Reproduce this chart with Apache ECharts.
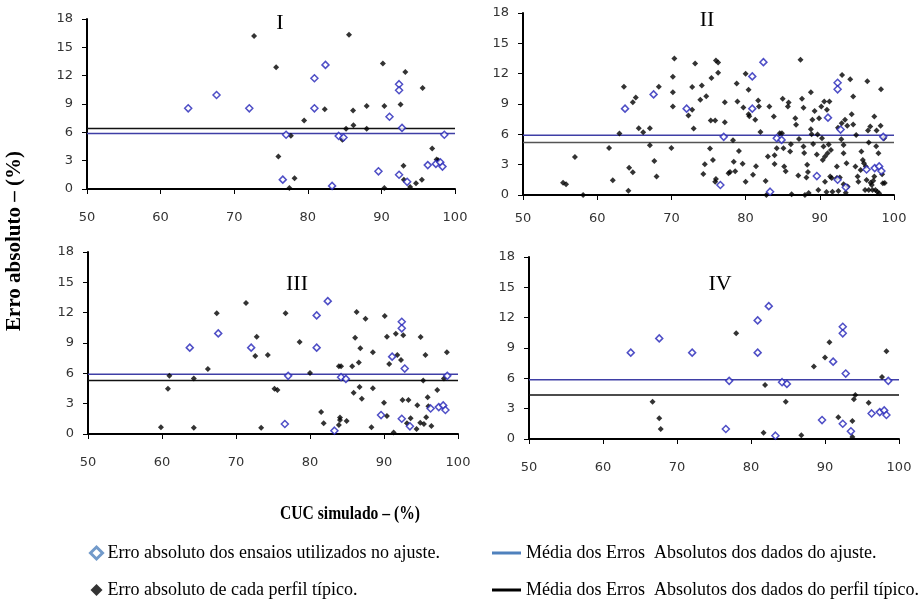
<!DOCTYPE html>
<html>
<head>
<meta charset="utf-8">
<script src="https://cdn.jsdelivr.net/npm/echarts@6/dist/echarts.min.js"></script>
<style>
  html, body { margin: 0; padding: 0; background: #fff; }
  #main { width: 920px; height: 606px; }
</style>
</head>
<body>
<div id="main"></div>
<script>
// pontos usados no ajuste (iguais nos 4 graficos)
var ajusteX = [63.75, 67.6, 72.05, 76.6, 77.05, 80.9, 80.9, 82.4, 83.3, 84.2, 84.85, 89.6,
  91.1, 92.4, 92.4, 92.4, 92.8, 93.5, 96.3, 97.4, 98.0, 98.3, 98.55];
var ajusteY = [8.54, 9.95, 8.54, 0.99, 5.75, 11.73, 8.54, 13.14, 0.33, 5.62, 5.45, 1.87,
  7.65, 1.51, 11.1, 10.45, 6.47, 0.76, 2.53, 2.66, 2.83, 2.37, 5.75];

// erro de cada perfil tipico [CUC, erro]
var perfil1 = [[72.7,16.2],[75.7,12.9],[76.0,3.45],[77.5,0.1],[77.7,5.64],[78.2,1.13],[79.5,7.26],
  [82.3,8.45],[84.7,5.21],[85.2,6.38],[85.6,16.34],[86.15,8.31],[86.2,6.76],[88.0,8.8],[88.0,6.38],
  [90.2,13.28],[90.4,8.8],[90.4,0.1],[92.6,8.95],[93.0,2.47],[93.05,0.99],[93.25,12.4],[93.9,0.2],
  [94.7,0.6],[95.5,0.99],[95.6,10.7],[96.9,4.3],[97.5,3.13],[97.7,3.05]];

var perfil2 = [[55.4,1.22],[55.8,1.06],[57.0,3.76],[58.1,0.0],[61.6,4.66],[62.1,1.45],[63.0,6.08],
  [63.6,10.7],[64.2,0.43],[64.3,2.7],[64.8,9.18],[64.8,2.25],[65.2,9.64],[65.6,6.6],[66.2,6.2],
  [67.1,6.6],[67.1,4.92],[67.7,3.37],[68.0,1.82],[68.3,10.7],[70.0,4.66],[70.2,11.69],[70.2,10.17],
  [70.2,8.75],[70.4,13.5],[72.3,7.86],[72.8,8.42],[73.0,6.57],[73.2,13.0],[72.8,10.67],[73.9,9.41],
  [74.1,10.83],[74.3,2.08],[74.5,3.04],[74.7,9.77],[75.2,4.59],[75.3,7.36],[75.6,3.47],[75.9,7.36],
  [75.4,11.56],[76.0,13.3],[76.3,13.1],[76.3,12.1],[75.9,1.32],[76.0,1.58],[77.2,9.18],[77.2,7.2],
  [77.7,2.15],[77.9,2.28],[78.3,5.42],[78.4,3.3],[78.6,2.34],[78.8,11.03],[78.9,9.25],[79.1,4.36],
  [79.6,3.1],[79.7,8.65],[80.0,11.99],[80.0,1.32],[80.4,10.4],[80.4,7.99],[80.5,7.79],[81.0,2.01],
  [81.3,7.43],[81.4,2.84],[81.7,9.35],[81.8,8.75],[82.0,6.24],[82.7,1.39],[83.0,3.8],[83.2,8.75],
  [82.8,0.0],[83.8,7.76],[83.9,3.07],[83.9,3.93],[84.2,4.62],[84.6,6.11],[84.9,6.11],[85.0,9.51],
  [85.1,4.62],[85.2,2.81],[85.4,2.34],[85.7,8.75],[85.8,9.15],[86.0,4.29],[86.1,5.02],[86.2,0.07],
  [86.7,7.6],[86.8,6.94],[87.1,1.92],[87.2,5.55],[87.4,13.38],[87.6,9.51],[87.8,8.62],[87.8,4.79],
  [87.9,4.16],[88.0,0.0],[88.2,1.72],[88.3,3.0],[88.4,2.28],[88.5,0.2],[88.8,10.17],[88.8,6.5],
  [88.9,6.0],[89.0,7.43],[89.1,5.05],[89.3,8.32],[89.6,4.0],[89.7,5.98],[89.8,0.5],[89.9,7.6],
  [90.2,8.75],[90.3,5.61],[90.4,3.47],[90.5,4.79],[90.6,9.25],[90.7,1.32],[90.7,3.8],[90.9,0.3],
  [90.96,8.42],[91.05,4.13],[91.2,4.99],[91.3,9.25],[91.4,1.82],[91.5,4.46],[91.6,1.68],[91.7,0.33],
  [92.3,2.81],[92.3,1.68],[92.45,6.64],[92.5,0.4],[92.7,1.72],[92.9,5.52],[92.95,7.1],[93.0,11.86],
  [93.2,4.95],[93.2,1.06],[93.2,4.13],[93.4,7.43],[93.5,0.23],[93.6,3.14],[93.7,6.84],[93.75,0.83],
  [94.1,11.46],[94.3,7.99],[94.5,9.74],[94.5,6.97],[94.8,2.81],[94.9,5.94],[95.1,1.82],[95.2,1.32],
  [95.5,2.48],[95.6,4.29],[95.8,3.47],[95.95,3.14],[96.1,0.5],[96.2,2.81],[96.3,1.49],[96.4,11.26],
  [96.5,6.37],[96.6,0.5],[96.6,5.18],[96.8,6.77],[96.85,1.22],[97.0,0.99],[97.1,0.5],[97.2,1.42],
  [97.35,7.76],[97.35,1.82],[97.5,0.5],[97.6,4.82],[97.65,6.37],[97.75,0.33],[97.9,4.13],[98.0,0.17],
  [98.2,6.84],[98.25,10.47],[98.4,2.05],[98.5,1.16],[98.65,5.61],[98.75,1.19]];

var perfil3 = [[59.86,0.66],[60.8,4.48],[61.0,5.77],[64.3,0.63],[64.3,5.5],[66.2,6.43],[67.4,11.94],
  [71.35,12.96],[72.6,7.72],[72.8,9.63],[73.4,0.63],[74.3,7.81],[75.2,4.48],[75.6,4.35],[76.7,11.94],
  [78.6,9.1],[80.0,6.03],[81.5,2.18],[81.85,1.06],[83.9,0.89],[83.9,6.69],[84.2,6.69],[84.05,1.62],
  [84.05,1.38],[84.95,1.29],[85.7,6.69],[85.9,4.09],[86.1,9.53],[86.3,12.07],[86.6,7.06],[86.7,4.65],
  [86.8,8.47],[87.0,3.49],[87.5,11.41],[88.3,0.66],[88.5,8.08],[88.5,4.52],[90.0,3.1],[90.1,11.67],
  [90.4,9.63],[90.4,1.78],[90.7,6.92],[91.3,0.16],[91.6,9.92],[91.8,7.81],[92.3,7.32],[92.5,3.36],
  [92.6,9.76],[93.1,1.06],[93.3,3.36],[93.6,1.55],[94.4,0.49],[94.5,2.84],[94.9,1.12],[94.95,9.6],
  [95.3,5.28],[95.4,0.99],[95.6,7.81],[95.7,1.65],[95.9,3.63],[96.0,2.74],[96.4,0.79],[97.2,4.35],
  [98.1,5.5],[98.5,8.08]];

var perfil4 = [[66.7,3.68],[67.6,2.04],[67.8,0.99],[78.0,10.45],[81.7,0.62],[81.9,5.35],[84.7,3.68],
  [86.8,0.36],[88.5,7.16],[90.0,8.05],[90.6,9.56],[91.8,2.14],[93.7,1.77],[93.7,0.2],[93.9,3.94],
  [94.1,4.34],[95.9,3.58],[97.7,6.14],[98.3,8.67]];

var perfis = [perfil1, perfil2, perfil3, perfil4];
var mediaAjuste = [5.88, 5.92, 5.9, 5.85];
var mediaPerfil = [6.41, 5.18, 5.28, 4.34];
var paineis = ['I', 'II', 'III', 'IV'];
var xTicks = [50, 100, 10];
var yTicks = [0, 18, 3];

var nomeAjuste = 'Erro absoluto dos ensaios utilizados no ajuste.';
var nomePerfil = 'Erro absoluto de cada perfil típico.';
var nomeMediaAj = 'Média dos Erros  Absolutos dos dados do ajuste.';
var nomeMediaPf = 'Média dos Erros  Absolutos dos dados do perfil típico.';

var grids = [
  { left: 87, top: 19, width: 368, height: 170 },
  { left: 523, top: 13, width: 371, height: 182 },
  { left: 88, top: 252, width: 370, height: 182 },
  { left: 529, top: 257, width: 370, height: 182 }
];
var xMargins = [22, 17, 22, 22];
var tituloPos = [[280, 23], [707, 20], [297, 284], [720, 284]];

var serif = 'Liberation Serif';
var sans = 'DejaVu Sans';

var xAxes = [], yAxes = [], series = [], graphics = [];
for (var i = 0; i < 4; i++) {
  xAxes.push({
    gridIndex: i, type: 'value', min: xTicks[0], max: xTicks[1], interval: xTicks[2],
    axisLine: { onZero: false, lineStyle: { color: '#000', width: 2 } },
    axisTick: { show: true, length: 5, lineStyle: { color: '#000' } },
    axisLabel: { color: '#333', fontFamily: sans, fontSize: 13, margin: xMargins[i] },
    splitLine: { show: false }
  });
  yAxes.push({
    gridIndex: i, type: 'value', min: yTicks[0], max: yTicks[1], interval: yTicks[2],
    axisLine: { show: true, lineStyle: { color: '#000', width: 2 } },
    axisTick: { show: true, length: 5, lineStyle: { color: '#000' } },
    axisLabel: { color: '#333', fontFamily: sans, fontSize: 13, margin: 14 },
    splitLine: { show: false }
  });
  series.push({
    name: nomeMediaAj, type: 'line', xAxisIndex: i, yAxisIndex: i,
    data: [[xTicks[0], mediaAjuste[i]], [xTicks[1], mediaAjuste[i]]],
    symbol: 'none', silent: true, z: 1,
    lineStyle: { color: '#3f3fa6', width: 1.5 }, itemStyle: { color: '#3f3fa6' }
  });
  series.push({
    name: nomeMediaPf, type: 'line', xAxisIndex: i, yAxisIndex: i,
    data: [[xTicks[0], mediaPerfil[i]], [xTicks[1], mediaPerfil[i]]],
    symbol: 'none', silent: true, z: 1,
    lineStyle: { color: i === 1 ? '#555' : '#111', width: 1.5 }, itemStyle: { color: '#111' }
  });
  series.push({
    name: nomePerfil, type: 'scatter', xAxisIndex: i, yAxisIndex: i,
    data: perfis[i], symbol: 'diamond', symbolSize: 6, z: 3,
    itemStyle: { color: '#000' }
  });
  series.push({
    name: nomeAjuste, type: 'scatter', xAxisIndex: i, yAxisIndex: i,
    data: ajusteX.map(function (x, k) { return [x, ajusteY[k]]; }),
    symbol: 'diamond', symbolSize: 7, z: 4,
    itemStyle: { color: '#fff', borderColor: '#2323b8', borderWidth: 1.5 }
  });
  graphics.push({
    type: 'text', x: tituloPos[i][0], y: tituloPos[i][1],
    style: { text: paineis[i], fontFamily: serif, fontSize: 22, fill: '#000',
      textAlign: 'center', textVerticalAlign: 'middle' }
  });
}

graphics.push({
  type: 'text', x: 15, y: 241, rotation: Math.PI / 2,
  style: { text: 'Erro absoluto – (%)', fontFamily: serif, fontSize: 21, fontWeight: 'bold',
    fill: '#000', textAlign: 'center', textVerticalAlign: 'middle' }
});
graphics.push({
  type: 'text', x: 350, y: 514, scaleX: 0.82,
  style: { text: 'CUC simulado – (%)', fontFamily: serif, fontSize: 19, fontWeight: 'bold',
    fill: '#000', textAlign: 'center', textVerticalAlign: 'middle' }
});

var legendText = { fontFamily: serif, fontSize: 18, lineHeight: 18, color: '#000' };

var option = {
  animation: false,
  backgroundColor: '#fff',
  grid: grids,
  xAxis: xAxes,
  yAxis: yAxes,
  series: series,
  graphic: graphics,
  legend: [
    {
      orient: 'vertical', left: 84, top: 539, itemGap: 19, itemWidth: 12, itemHeight: 12,
      textStyle: legendText, selectedMode: false,
      data: [
        { name: nomeAjuste, icon: 'diamond', itemStyle: { color: '#fff', borderColor: '#4f81bd', borderWidth: 3 } },
        { name: nomePerfil, icon: 'diamond', itemStyle: { color: '#000' } }
      ]
    },
    {
      orient: 'vertical', left: 487, top: 539, itemGap: 19, itemWidth: 29, itemHeight: 3,
      textStyle: legendText, selectedMode: false,
      data: [
        { name: nomeMediaAj, icon: 'rect', itemStyle: { color: '#4f81bd' } },
        { name: nomeMediaPf, icon: 'rect', itemStyle: { color: '#000' } }
      ]
    }
  ]
};

var myChart = echarts.init(document.getElementById('main'));
myChart.setOption(option);
</script>
</body>
</html>
